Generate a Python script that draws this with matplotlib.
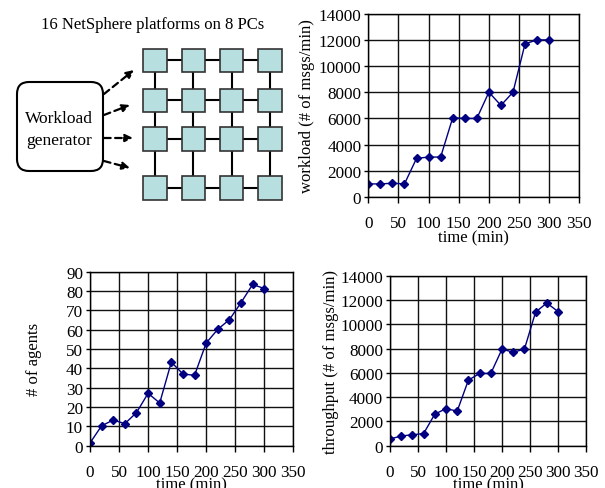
import matplotlib
matplotlib.use("Agg")
import matplotlib.pyplot as plt
from matplotlib.patches import FancyBboxPatch, Rectangle

plt.rcParams['font.family'] = ['Liberation Serif', 'DejaVu Serif']

# ---------------- data ----------------
time_min = [0, 20, 40, 60, 80, 100, 120, 140, 160, 180, 200, 220, 240, 260, 280, 300]
workload = [1000, 1000, 1050, 1000, 2950, 3050, 3050, 6050, 6000, 6000, 8000, 7000, 8000, 11700, 12000, 12000]
agents = [1.4, 10.3, 13.3, 11.4, 17.1, 27.1, 22.1, 43.2, 37.1, 36.4, 53.1, 60.2, 65.2, 74.0, 83.4, 81.3]
throughput = [550, 800, 900, 1000, 2600, 3050, 2850, 5400, 5950, 5950, 7950, 7700, 7950, 11000, 11750, 11050]

x_ticks = [0, 50, 100, 150, 200, 250, 300, 350]
work_ticks = [0, 2000, 4000, 6000, 8000, 10000, 12000, 14000]
agent_ticks = [0, 10, 20, 30, 40, 50, 60, 70, 80, 90]

title_text = "16 NetSphere platforms on 8 PCs"
gen_text = "Workload\ngenerator"

W, H = 605, 489
fig = plt.figure(figsize=(W / 100, H / 100), dpi=100)

LINE_C = '#000080'
TICK_FS = 12.3
LAB_FS = 12


def px_axes(l, t, r, b):
    return fig.add_axes([l / W, 1 - b / H, (r - l) / W, (b - t) / H])


def style(ax, yticks, ylab, ylab_x, xlab_y):
    ax.set_xlim(0, 350)
    ax.set_ylim(yticks[0], yticks[-1])
    ax.set_xticks(x_ticks)
    ax.set_yticks(yticks)
    ax.grid(True, color='#111111', linewidth=1.0)
    ax.set_axisbelow(True)
    for s in ax.spines.values():
        s.set_color('black')
        s.set_linewidth(1.0)
    ax.tick_params(axis='x', direction='out', length=4, width=1, pad=9, labelsize=TICK_FS)
    ax.tick_params(axis='y', direction='out', length=3, width=1, pad=2, labelsize=TICK_FS)
    ax.set_xlabel("time (min)", fontsize=LAB_FS)
    ax.xaxis.set_label_coords(0.5, xlab_y)
    ax.xaxis.label.set_verticalalignment('center')
    ax.set_ylabel(ylab, fontsize=LAB_FS)
    ax.yaxis.set_label_coords(ylab_x, 0.5)
    ax.yaxis.label.set_verticalalignment('center')


# ---------------- charts ----------------
ax1 = px_axes(368.3, 14.7, 579.3, 198)
ax1.plot(time_min, workload, color=LINE_C, lw=1.0, marker='D', ms=3.8)
style(ax1, work_ticks, "workload (# of msgs/min)", -0.29, -0.218)

ax2 = px_axes(90, 272.7, 293.3, 446.7)
ax2.plot(time_min, agents, color=LINE_C, lw=1.0, marker='D', ms=3.8)
style(ax2, agent_ticks, "# of agents", -0.275, -0.22)

ax3 = px_axes(390, 276.7, 586, 446.7)
ax3.plot(time_min, throughput, color=LINE_C, lw=1.0, marker='D', ms=3.8)
style(ax3, work_ticks, "throughput (# of msgs/min)", -0.30, -0.225)

# ---------------- diagram ----------------
bg = fig.add_axes([0, 0, 1, 1], zorder=-1)
bg.set_xlim(0, W)
bg.set_ylim(H, 0)
bg.axis('off')

bg.text(153, 25, title_text, ha='center', va='center', fontsize=12)

cx = [155, 193.3, 231.6, 270]
cy = [61.3, 101.3, 140, 189]
sq = 23.5
for y in cy:
    bg.plot([cx[0], cx[-1]], [y, y], color='black', lw=1.5, zorder=1)
for x in cx:
    bg.plot([x, x], [cy[0], cy[-1]], color='black', lw=1.5, zorder=1)
for x in cx:
    for y in cy:
        bg.add_patch(Rectangle((x - sq / 2, y - sq / 2), sq, sq, facecolor='#b8dfe0',
                               edgecolor='#333333', lw=1.2, zorder=2))

box = FancyBboxPatch((17, 83), 86, 89, boxstyle="round,pad=0,rounding_size=12",
                     facecolor='white', edgecolor='black', lw=1.5)
bg.add_patch(box)
bg.text(59, 130, gen_text, ha='center', va='center', fontsize=12.5, linespacing=1.45)

arrows = [((104, 95), (134, 71)), ((104, 116), (130, 106)),
          ((104, 139), (133, 139)), ((104, 162), (130, 169))]
for (x0, y0), (x1, y1) in arrows:
    bg.annotate('', xy=(x1, y1), xytext=(x0, y0),
                arrowprops=dict(arrowstyle='-|>,head_length=0.45,head_width=0.22',
                                color='black', lw=1.6, linestyle=(0, (3, 2)),
                                shrinkA=0, shrinkB=0))

fig.savefig("out.png", dpi=100)
